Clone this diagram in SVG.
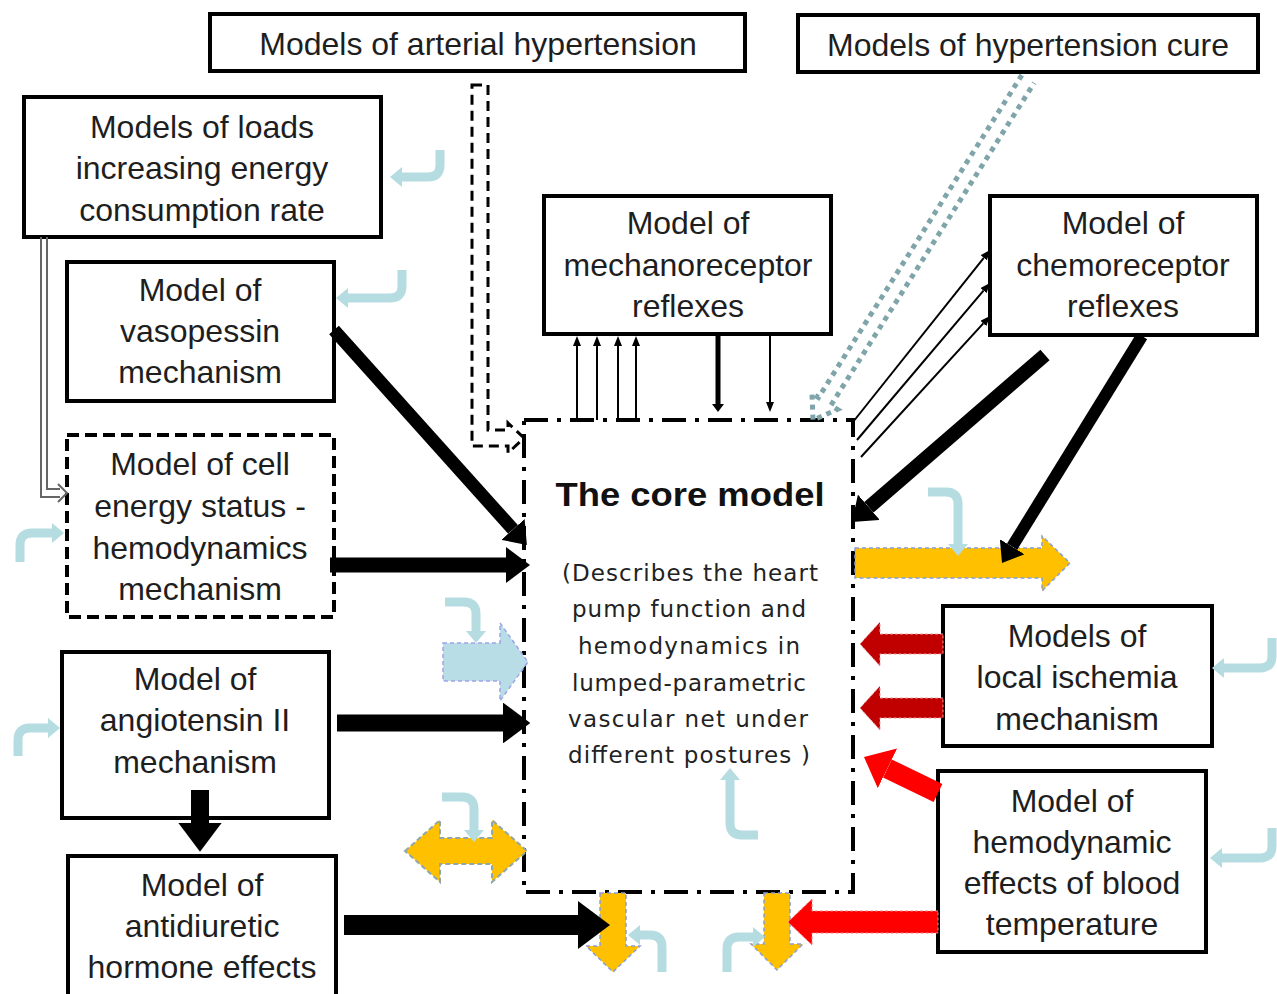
<svg xmlns="http://www.w3.org/2000/svg" width="1277" height="994" viewBox="0 0 1277 994">
  <style>
    .box { fill: #fff; stroke: #000; stroke-width: 4; }
    .dashbox { fill: #fff; stroke: #000; stroke-width: 4; stroke-dasharray: 12 6; }
    .core { fill: #fff; stroke: #000; stroke-width: 4; stroke-dasharray: 24 9 4 9; }
    .lbl { font-family: "Liberation Sans", Arial, sans-serif; font-size: 32px; fill: #1e1e1e; text-anchor: middle; }
    .title { font-family: "Liberation Sans", Arial, sans-serif; font-size: 34px; font-weight: bold; fill: #111; text-anchor: middle; }
    .sub { font-family: "DejaVu Sans", Verdana, sans-serif; font-size: 23px; fill: #222; text-anchor: middle; }
    .thick { stroke: #000; fill: none; marker-end: url(#mk-black); }
    .thin { stroke: #000; stroke-width: 2; fill: none; marker-end: url(#mk-thin); }
    .loop { stroke: #b5dce1; stroke-width: 9; fill: none; marker-end: url(#mk-loop); }
    .yellow { fill: #ffc000; stroke: #8a9fd6; stroke-width: 1.5; stroke-dasharray: 4 3; }
    .yellow2 { fill: #ffc000; stroke: #8fa7a8; stroke-width: 2; stroke-dasharray: 5 3; }
    .pale { fill: #b8dde6; stroke: #9ea4e8; stroke-width: 1.5; stroke-dasharray: 4 3; }
    .dred { fill: #c00000; stroke: #e8a0a0; stroke-width: 1; stroke-dasharray: 3 2; }
    .red { fill: #ff0000; stroke: #ff8080; stroke-width: 1; stroke-dasharray: 3 2; }
  </style>
  <defs>
    <marker id="mk-black" viewBox="0 0 10 10" refX="0" refY="5" markerWidth="1.6" markerHeight="2.4" markerUnits="strokeWidth" orient="auto" preserveAspectRatio="none">
      <path d="M0,0 L10,5 L0,10 z" fill="#000"/>
    </marker>
    <marker id="mk-red" viewBox="0 0 10 10" refX="0" refY="5" markerWidth="1.3" markerHeight="2.2" markerUnits="strokeWidth" orient="auto" preserveAspectRatio="none">
      <path d="M0,0 L10,5 L0,10 z" fill="#ff0000"/>
    </marker>
    <marker id="mk-thin" viewBox="0 0 10 8" refX="0" refY="4" markerWidth="10" markerHeight="8" markerUnits="userSpaceOnUse" orient="auto">
      <path d="M0,0 L10,4 L0,8 z" fill="#000"/>
    </marker>
    <marker id="mk-loop" viewBox="0 0 12 20" refX="0" refY="10" markerWidth="12" markerHeight="20" markerUnits="userSpaceOnUse" orient="auto">
      <path d="M0,0 L12,10 L0,20 z" fill="#b5dce1"/>
    </marker>
  </defs>

  <!-- central model -->
  <g id="core">
    <rect class="core" x="524" y="420" width="329" height="472"/>
    <text class="title" x="690" y="506" textLength="269" lengthAdjust="spacingAndGlyphs">The core model</text>
    <text class="sub" x="690" y="581" textLength="256" lengthAdjust="spacing">(Describes the heart</text>
    <text class="sub" x="689" y="617" textLength="234" lengthAdjust="spacing">pump function and</text>
    <text class="sub" x="689" y="654" textLength="222" lengthAdjust="spacing">hemodynamics in</text>
    <text class="sub" x="689" y="691" textLength="234" lengthAdjust="spacing">lumped-parametric</text>
    <text class="sub" x="688" y="727" textLength="240" lengthAdjust="spacing">vascular net under</text>
    <text class="sub" x="689" y="763" textLength="242" lengthAdjust="spacing">different postures )</text>
  </g>

  <g id="arterial-hypertension">
    <rect class="box" x="210" y="14" width="535" height="57"/>
    <text class="lbl" x="478" y="55">Models of arterial hypertension</text>
  </g>

  <g id="hypertension-cure">
    <rect class="box" x="798" y="15" width="460" height="57"/>
    <text class="lbl" x="1028" y="56">Models of hypertension cure</text>
  </g>

  <g id="loads">
    <rect class="box" x="24" y="97" width="357" height="140"/>
    <text class="lbl" x="202" y="138">Models of loads</text>
    <text class="lbl" x="202" y="179">increasing energy</text>
    <text class="lbl" x="202" y="221">consumption rate</text>
  </g>

  <g id="vasopessin">
    <rect class="box" x="67" y="262" width="267" height="139"/>
    <text class="lbl" x="200" y="301">Model of</text>
    <text class="lbl" x="200" y="342">vasopessin</text>
    <text class="lbl" x="200" y="383">mechanism</text>
  </g>

  <g id="cell-energy">
    <rect class="dashbox" x="67" y="435" width="267" height="182"/>
    <text class="lbl" x="200" y="475">Model of cell</text>
    <text class="lbl" x="200" y="517">energy status -</text>
    <text class="lbl" x="200" y="559">hemodynamics</text>
    <text class="lbl" x="200" y="600">mechanism</text>
  </g>

  <g id="angiotensin">
    <rect class="box" x="62" y="652" width="267" height="166"/>
    <text class="lbl" x="195" y="690">Model of</text>
    <text class="lbl" x="195" y="731">angiotensin II</text>
    <text class="lbl" x="195" y="773">mechanism</text>
  </g>

  <g id="antidiuretic">
    <rect class="box" x="68" y="856" width="268" height="142"/>
    <text class="lbl" x="202" y="896">Model of</text>
    <text class="lbl" x="202" y="937">antidiuretic</text>
    <text class="lbl" x="202" y="978">hormone effects</text>
  </g>

  <g id="mechanoreceptor">
    <rect class="box" x="544" y="196" width="287" height="138"/>
    <text class="lbl" x="688" y="234">Model of</text>
    <text class="lbl" x="688" y="276">mechanoreceptor</text>
    <text class="lbl" x="688" y="317">reflexes</text>
  </g>

  <g id="chemoreceptor">
    <rect class="box" x="990" y="196" width="267" height="139"/>
    <text class="lbl" x="1123" y="234">Model of</text>
    <text class="lbl" x="1123" y="276">chemoreceptor</text>
    <text class="lbl" x="1123" y="317">reflexes</text>
  </g>

  <g id="ischemia">
    <rect class="box" x="943" y="606" width="269" height="140"/>
    <text class="lbl" x="1077" y="647">Models of</text>
    <text class="lbl" x="1077" y="688">local ischemia</text>
    <text class="lbl" x="1077" y="730">mechanism</text>
  </g>

  <g id="blood-temperature">
    <rect class="box" x="938" y="771" width="268" height="181"/>
    <text class="lbl" x="1072" y="812">Model of</text>
    <text class="lbl" x="1072" y="853">hemodynamic</text>
    <text class="lbl" x="1072" y="894">effects of blood</text>
    <text class="lbl" x="1072" y="935">temperature</text>
  </g>

  <g id="connectors">
    <!-- double line from loads to cell energy -->
    <path d="M41,237 V497 H60 M47,237 V489 H60" stroke="#666" stroke-width="2" fill="none"/>
    <path d="M58,484 L67,493 L58,502" stroke="#666" stroke-width="2" fill="none"/>

    <!-- hollow dashed arrow from arterial hypertension -->
    <path d="M472,85 L488,85 L488,430 L508,430 L508,423 L524,438 L508,453 L508,446 L472,446 Z" fill="none" stroke="#000" stroke-width="3" stroke-dasharray="10 6"/>

    <!-- hollow dotted arrow from hypertension cure -->
    <path d="M1021.8,75.1 L818.5,397.5 L812,393.4 L813,420 L837.4,409.4 L830.9,405.3 L1034.2,82.9" fill="none" stroke="#7fa5aa" stroke-width="5" stroke-dasharray="5 5"/>

    <!-- mechanoreceptor links -->
    <line class="thin" x1="577" y1="420" x2="577" y2="346"/>
    <line class="thin" x1="597" y1="420" x2="597" y2="346"/>
    <line class="thin" x1="618" y1="420" x2="618" y2="346"/>
    <line class="thin" x1="636" y1="420" x2="636" y2="346"/>
    <line class="thick" stroke-width="5" x1="718" y1="334" x2="718" y2="404"/>
    <line class="thin" x1="770" y1="334" x2="770" y2="402"/>

    <!-- chemoreceptor links -->
    <line class="thin" x1="853" y1="422" x2="983.8" y2="257.8"/>
    <line class="thin" x1="857" y1="440" x2="983.5" y2="290.6"/>
    <line class="thin" x1="861" y1="457" x2="983.3" y2="323.4"/>
    <line class="thick" stroke-width="14" x1="1045" y1="355" x2="868.9" y2="507.3"/>

    <!-- inputs from the left -->
    <line class="thick" stroke-width="13" x1="334" y1="330" x2="513" y2="529.4"/>
    <line class="thick" stroke-width="15" x1="330" y1="565" x2="506" y2="565"/>
    <line class="thick" stroke-width="17" x1="337" y1="723" x2="503" y2="723"/>
    <line class="thick" stroke-width="18" x1="200" y1="790" x2="200" y2="823"/>
    <polygon class="pale" points="443,643 500,643 500,623 528,662 500,701 500,681 443,681"/>
    <polygon class="yellow2" points="405,851 440,820 440,838 492,838 492,820 527,851 492,882 492,864 440,864 440,882"/>

    <!-- outputs -->
    <polygon class="yellow" points="855,548 1042,548 1042,536 1070,563 1042,591 1042,578 855,578"/>
    <line class="thick" stroke-width="12" x1="1142" y1="336" x2="1012.1" y2="546.7"/>
    <polygon class="yellow" points="600,893 626,893 626,946 640,946 613,972 586,946 600,946"/>
    <polygon class="yellow" points="764,893 790,893 790,944 803,944 777,970 751,944 764,944"/>
    <line class="thick" stroke-width="20" x1="344" y1="925" x2="578" y2="925"/>

    <!-- ischemia and temperature -->
    <polygon class="dred" points="943,634 880,634 880,622 860,644 880,666 880,654 943,654"/>
    <polygon class="dred" points="943,698 880,698 880,686 860,708 880,730 880,718 943,718"/>
    <line stroke="#ff0000" stroke-width="20" marker-end="url(#mk-red)" x1="938" y1="793" x2="887.4" y2="768.4"/>
    <polygon class="red" points="938,911 812,911 812,899 788,922 812,945 812,933 938,933"/>

    <!-- small feedback loops -->
    <path class="loop" d="M440,150 V165 Q440,177 428,177 H402"/>
    <path class="loop" d="M402,270 V286 Q402,298 390,298 H348"/>
    <path class="loop" d="M20,562 V545 Q20,533 32,533 H52"/>
    <path class="loop" d="M18,756 V740 Q18,728 30,728 H48"/>
    <path class="loop" d="M445,602 H464 Q476,602 476,614 V631"/>
    <path class="loop" d="M442,797 H462 Q474,797 474,809 V830"/>
    <path class="loop" d="M758,835 H742 Q730,835 730,823 V780"/>
    <path class="loop" d="M928,492 H946 Q958,492 958,504 V544"/>
    <path class="loop" d="M1272,638 V656 Q1272,668 1260,668 H1224"/>
    <path class="loop" d="M1272,828 V846 Q1272,858 1260,858 H1222"/>
    <path class="loop" d="M662,972 V947 Q662,935 650,935 H640"/>
    <path class="loop" d="M727,972 V949 Q727,937 739,937 H753"/>
  </g>
</svg>
